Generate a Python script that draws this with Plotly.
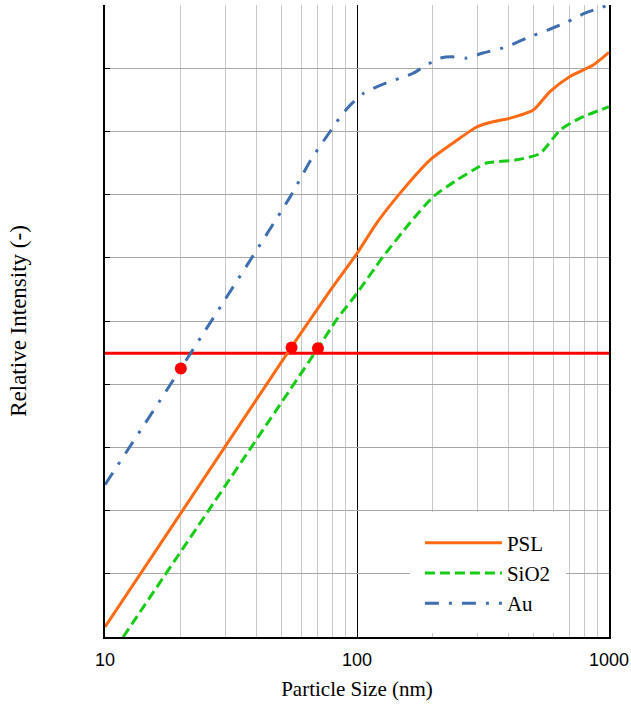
import plotly.graph_objects as go

# ---- data ----
psl_x = [10, 20, 55, 78.2, 100, 119.7, 148, 195, 249, 298.5, 337, 405, 501, 583, 700, 866, 1000]
psl_y = [0.16, 1.96, 4.59, 5.48, 6.07, 6.55, 7.02, 7.55, 7.86, 8.07, 8.14, 8.21, 8.34, 8.63, 8.87, 9.05, 9.25]

sio2_x = [11.8, 70, 83, 100, 127, 162, 201, 249, 298.5, 327, 430, 532, 639, 767, 1000]
sio2_y = [0.0, 4.57, 5.02, 5.44, 6.02, 6.55, 6.97, 7.23, 7.42, 7.50, 7.55, 7.65, 8.02, 8.21, 8.39]

au_x = [10, 20, 54.2, 66.1, 80.5, 86.9, 95.3, 106, 116, 131, 153, 167, 189, 213, 238, 272, 316, 393, 473, 568, 681, 803, 1000]
au_y = [2.41, 4.25, 6.96, 7.57, 8.07, 8.26, 8.44, 8.60, 8.68, 8.77, 8.86, 8.92, 9.05, 9.16, 9.18, 9.16, 9.24, 9.34, 9.48, 9.60, 9.73, 9.87, 10.0]

threshold_x = [10, 1000]
threshold_y = [4.49, 4.49]

cross_x = [20, 55, 70]
cross_y = [4.25, 4.58, 4.57]

major_ticks = [10, 100, 1000]
major_labels = ["10", "100", "1000"]
minor_ticks = [20, 30, 40, 50, 60, 70, 80, 90, 200, 300, 400, 500, 600, 700, 800, 900]

SERIF = "Liberation Serif, Times New Roman, serif"

fig = go.Figure()

fig.add_trace(go.Scatter(x=threshold_x, y=threshold_y, mode="lines",
                         line=dict(color="#ff0000", width=3), showlegend=False))
fig.add_trace(go.Scatter(x=psl_x, y=psl_y, mode="lines", name="PSL", legendgroup="a",
                         line=dict(color="#ff6a13", width=3, shape="spline", smoothing=0.6)))
fig.add_trace(go.Scatter(x=sio2_x, y=sio2_y, mode="lines", name="SiO2", legendgroup="b",
                         line=dict(color="#16cc16", width=3, dash="10px,5px", shape="spline", smoothing=0.6)))
fig.add_trace(go.Scatter(x=au_x, y=au_y, mode="lines", name="Au", legendgroup="c",
                         line=dict(color="#3f6eaf", width=3, dash="14px,10px,3px,10px", shape="spline", smoothing=0.6)))
fig.add_trace(go.Scatter(x=cross_x, y=cross_y, mode="markers", showlegend=False,
                         marker=dict(color="#ff0000", size=12)))

fig.update_layout(
    width=631, height=709,
    margin=dict(l=105, r=22, t=5, b=72, autoexpand=False),
    paper_bgcolor="white", plot_bgcolor="white",
    showlegend=True,
    legend=dict(x=0.605, y=0.197, xanchor="left", yanchor="top",
                bgcolor="white", bordercolor="white", borderwidth=10,
                font=dict(family=SERIF, size=21, color="black"),
                itemwidth=77, tracegroupgap=10, traceorder="normal"),
    xaxis=dict(
        type="log", range=[1, 3], automargin=False,
        tickvals=major_ticks, ticktext=major_labels,
        showgrid=True, gridcolor="black", gridwidth=1,
        minor=dict(tickvals=minor_ticks, showgrid=True, gridcolor="#c8c8c8", gridwidth=1, ticklen=0),
        showline=True, linecolor="black", linewidth=1.5, mirror=False,
        ticks="", ticklabelstandoff=6,
        tickfont=dict(family="Liberation Sans, Arial, sans-serif", size=18, color="black"),
        title=dict(text="Particle Size (nm)", standoff=12,
                   font=dict(family=SERIF, size=21, color="black")),
        zeroline=False,
    ),
    yaxis=dict(
        range=[0, 10], dtick=1, tick0=0, automargin=False,
        showticklabels=False,
        showgrid=True, gridcolor="#a8a8a8", gridwidth=1,
        showline=True, linecolor="black", linewidth=1.5, mirror=True,
        ticks="inside", ticklen=5, tickcolor="black",
        title=dict(text="Relative Intensity (-)", standoff=70,
                   font=dict(family=SERIF, size=23, color="black")),
        zeroline=False,
    ),
)

fig.write_html("out.html", config={"displayModeBar": False},
               post_script="document.body.style.margin='0';document.body.style.overflow='hidden';")
